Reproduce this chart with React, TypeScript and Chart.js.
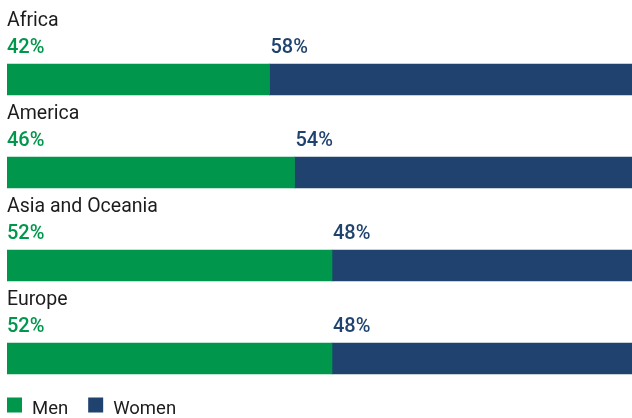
import React, { useEffect, useRef } from "react";
import { Chart, registerables } from "chart.js";

Chart.register(...registerables);

const regions = ["Africa", "America", "Asia and Oceania", "Europe"];
const menShare = [42, 46, 52, 52];
const womenShare = [58, 54, 48, 48];
const seriesNames = ["Men", "Women"];
const seriesColors = ["#00964B", "#1F436E"];
const textColor = "#1c1c1c";
const FONT = "Roboto, 'Noto Sans', sans-serif";

const labelsPlugin = {
  id: "barLabels",
  afterDatasetsDraw(chart: any) {
    const ctx = chart.ctx;
    const m0 = chart.getDatasetMeta(0);
    const m1 = chart.getDatasetMeta(1);
    ctx.save();
    ctx.textBaseline = "alphabetic";
    ctx.textAlign = "left";
    chart.data.labels.forEach((lab: string, i: number) => {
      const b0 = m0.data[i];
      const b1 = m1.data[i];
      const top = b0.y - b0.height / 2;
      ctx.fillStyle = textColor;
      ctx.font = `400 19.5px ${FONT}`;
      ctx.fillText(lab, b0.base, top - 38.5);
      ctx.font = `500 20px ${FONT}`;
      ctx.fillStyle = seriesColors[0];
      ctx.fillText(`${chart.data.datasets[0].data[i]}%`, b0.base, top - 11);
      ctx.fillStyle = seriesColors[1];
      ctx.fillText(`${chart.data.datasets[1].data[i]}%`, b1.base + 1, top - 11);
    });
    // legend
    let x = chart.chartArea.left;
    const boxTop = chart.height - 20.5;
    ctx.font = `400 18.5px ${FONT}`;
    chart.data.datasets.forEach((ds: any) => {
      ctx.fillStyle = ds.backgroundColor;
      ctx.fillRect(x, boxTop, 15, 15);
      ctx.fillStyle = textColor;
      ctx.fillText(ds.label, x + 25, boxTop + 16);
      x += 25 + ctx.measureText(ds.label).width + 20;
    });
    ctx.restore();
  },
};

export default function App() {
  const ref = useRef<HTMLCanvasElement | null>(null);
  useEffect(() => {
    if (!ref.current) return;
    const chart = new Chart(ref.current, {
      type: "bar",
      data: {
        labels: regions,
        datasets: [
          {
            label: seriesNames[0],
            data: menShare,
            backgroundColor: seriesColors[0],
            borderWidth: 0,
            barThickness: 31,
          },
          {
            label: seriesNames[1],
            data: womenShare,
            backgroundColor: seriesColors[1],
            borderWidth: 0,
            barThickness: 31,
          },
        ],
      },
      options: {
        indexAxis: "y",
        animation: false,
        responsive: false,
        maintainAspectRatio: false,
        layout: { padding: { left: 7, right: 0, top: 33, bottom: 13 } },
        scales: {
          x: { stacked: true, min: 0, max: 100, display: false },
          y: { stacked: true, display: false, offset: true },
        },
        plugins: {
          legend: { display: false },
          tooltip: { enabled: false },
        },
      },
      plugins: [labelsPlugin],
    } as any);
    return () => chart.destroy();
  }, []);
  return (
    <div style={{ position: "absolute", left: 0, top: 0, width: 632, height: 418 }}>
      <canvas ref={ref} width={632} height={418} style={{ display: "block" }} />
    </div>
  );
}
